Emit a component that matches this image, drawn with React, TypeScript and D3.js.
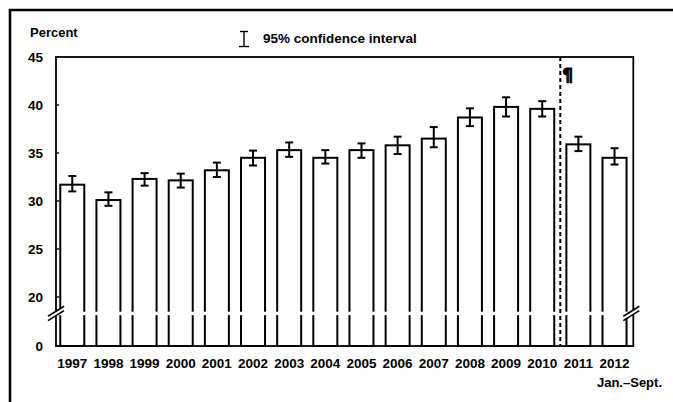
import React from "react";
import * as d3 from "d3";

const years = ["1997","1998","1999","2000","2001","2002","2003","2004","2005","2006","2007","2008","2009","2010","2011","2012"];
const values = [31.7, 30.1, 32.3, 32.15, 33.2, 34.5, 35.3, 34.5, 35.3, 35.8, 36.5, 38.7, 39.8, 39.6, 35.9, 34.5];
const lower = [31.0, 29.5, 31.6, 31.4, 32.5, 33.7, 34.6, 33.9, 34.5, 34.9, 35.6, 37.8, 38.8, 38.8, 35.2, 33.8];
const upper = [32.6, 30.9, 32.9, 32.85, 34.0, 35.25, 36.1, 35.3, 36.0, 36.7, 37.7, 39.65, 40.8, 40.4, 36.7, 35.5];
const yTicks = [0, 20, 25, 30, 35, 40, 45];
const breakValue = 13.3;
const splitAfter = "2010";

const W = 673, H = 402;
const FONT = "'Liberation Sans', Arial, Helvetica, sans-serif";

export default function App() {
  const plotL = 56, plotR = 633.3, plotT = 57, plotB = 346;
  const y = d3.scaleLinear().domain([0, 20, 45]).range([plotB, 297, plotT]);
  const x = d3.scaleBand<string>().domain(years).range([54.2, 632.6]).paddingInner(0.336).paddingOuter(0.168);
  const bw = x.bandwidth();
  const by = y(breakValue);
  const splitIdx = years.indexOf(splitAfter);
  const dashX = ((x(years[splitIdx]) as number) + bw + (x(years[splitIdx + 1]) as number)) / 2;
  const cap = 4;

  const slash = (cx: number, key: string) => {
    const dx = 8, dy = 5, s = 2.2;
    return (
      <g key={key}>
        <polygon
          points={`${cx - dx},${by + dy - s} ${cx + dx},${by - dy - s} ${cx + dx},${by - dy + s} ${cx - dx},${by + dy + s}`}
          fill="#fff"
        />
        <line x1={cx - dx} y1={by + dy - s} x2={cx + dx} y2={by - dy - s} stroke="#000" strokeWidth={1.6} />
        <line x1={cx - dx} y1={by + dy + s} x2={cx + dx} y2={by - dy + s} stroke="#000" strokeWidth={1.6} />
      </g>
    );
  };

  return (
    <svg width={W} height={H} style={{ position: "absolute", left: 0, top: 0, background: "#fff" }} fontFamily={FONT}>
      <rect x={0} y={0} width={W} height={H} fill="#fff" />
      {/* outer frame */}
      <line x1={9} y1={10} x2={W} y2={10} stroke="#000" strokeWidth={2.6} />
      <line x1={10} y1={9} x2={10} y2={H} stroke="#000" strokeWidth={2.6} />

      {/* title / legend */}
      <text x={30} y={37} fontSize={13} fontWeight="bold" fill="#000">Percent</text>
      <g stroke="#000" strokeWidth={1.4}>
        <line x1={244} y1={31.5} x2={244} y2={46.5} />
        <line x1={240} y1={31.5} x2={248} y2={31.5} />
        <line x1={239} y1={46.5} x2={249} y2={46.5} />
      </g>
      <text x={263} y={43} fontSize={13.5} fontWeight="bold" fill="#000">95% confidence interval</text>

      {/* bars */}
      {years.map((yr, i) => (
        <rect key={yr} x={x(yr)} y={y(values[i])} width={bw} height={plotB - y(values[i])}
          fill="#fff" stroke="#000" strokeWidth={2} />
      ))}
      {/* break gap across bars */}
      <rect x={plotL + 1} y={by - 1.7} width={plotR - plotL - 2} height={3.4} fill="#fff" />

      {/* error bars */}
      {years.map((yr, i) => {
        const cx = (x(yr) as number) + bw / 2;
        return (
          <g key={"e" + yr} stroke="#000" strokeWidth={2}>
            <line x1={cx} y1={y(upper[i])} x2={cx} y2={y(lower[i])} />
            <line x1={cx - cap} y1={y(upper[i])} x2={cx + cap} y2={y(upper[i])} />
            <line x1={cx - cap} y1={y(lower[i])} x2={cx + cap} y2={y(lower[i])} />
          </g>
        );
      })}

      {/* plot frame */}
      <rect x={plotL} y={plotT} width={plotR - plotL} height={plotB - plotT} fill="none" stroke="#000" strokeWidth={1.8} />
      {/* dashed split line */}
      <line x1={dashX} y1={plotT} x2={dashX} y2={plotB} stroke="#000" strokeWidth={2} strokeDasharray="4,3" />
      <text x={dashX + 2} y={81} fontSize={17} fontWeight="bold" fill="#000" stroke="#000" strokeWidth={0.9}
        fontFamily="'DejaVu Sans', sans-serif">¶</text>

      {/* y ticks */}
      {yTicks.map((t) => (
        <g key={"t" + t}>
          <line x1={plotL} x2={plotL + 3} y1={y(t)} y2={y(t)} stroke="#000" strokeWidth={1.4} />
          <text x={43} y={y(t)} dy="0.36em" textAnchor="end" fontSize={13.5} fontWeight="bold" fill="#000">{t}</text>
        </g>
      ))}

      {/* axis breaks */}
      {slash(plotL, "bl")}
      {slash(plotR - 2, "br")}

      {/* x labels */}
      {years.map((yr) => (
        <text key={"l" + yr} x={(x(yr) as number) + bw / 2} y={368} textAnchor="middle" fontSize={13.5} fontWeight="bold" fill="#000">{yr}</text>
      ))}
      <text x={662} y={387} textAnchor="end" fontSize={13} fontWeight="bold" fill="#000">Jan.–Sept.</text>
    </svg>
  );
}
